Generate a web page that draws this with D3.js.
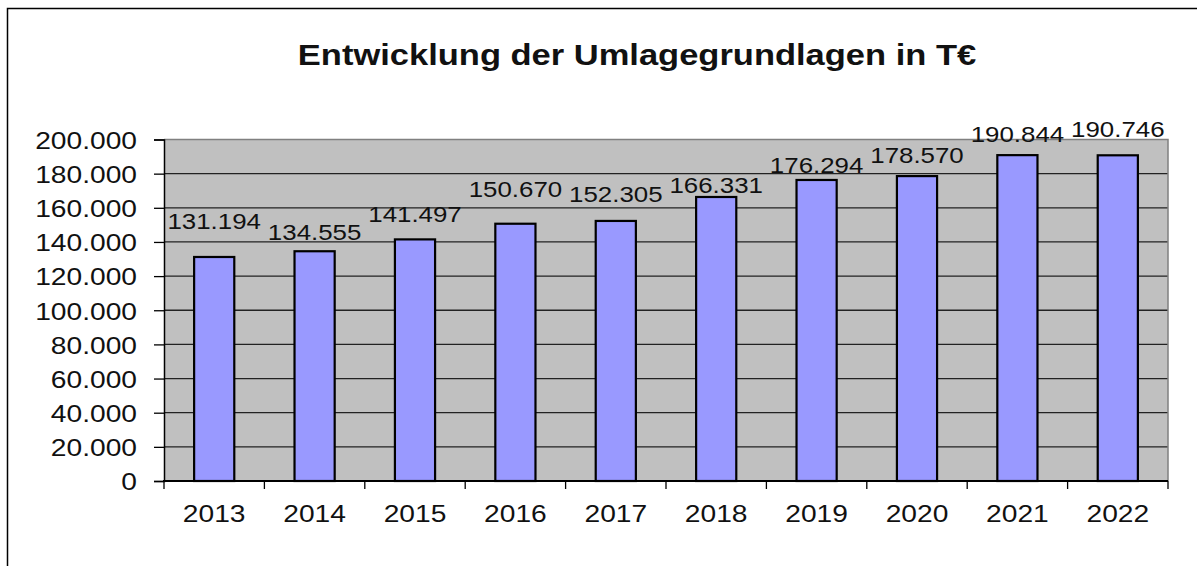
<!DOCTYPE html>
<html>
<head>
<meta charset="utf-8">
<script src="https://cdn.jsdelivr.net/npm/d3@7"></script>
<style>
  html, body { margin: 0; padding: 0; background: #fff; }
  svg { display: block; font-family: "Liberation Sans", Arial, sans-serif; }
</style>
</head>
<body>
<svg width="1197" height="566"></svg>
<script>
// data
const years = ["2013", "2014", "2015", "2016", "2017", "2018", "2019", "2020", "2021", "2022"];
const values = [131194, 134555, 141497, 150670, 152305, 166331, 176294, 178570, 190844, 190746];
const yTicks = [0, 20000, 40000, 60000, 80000, 100000, 120000, 140000, 160000, 180000, 200000];
// labels in the original were dragged by hand, so each sits a bit differently above its bar
const labelLift = [28, 11, 17, 27, 19, 4, 7, 13, 13, 18];

const title = "Entwicklung der Umlagegrundlagen in T€";

const de = d3.formatLocale({decimal: ",", thousands: ".", grouping: [3], currency: ["", " €"]});
const fmt = de.format(",d");

const svg = d3.select("svg");
const stretch = 1.15; // text in the source is a little wider than normal

const plotL = 164, plotR = 1168, plotT = 139.5, plotB = 481;

const y = d3.scaleLinear().domain([0, 200000]).range([plotB, plotT]);
const xCat = d3.scaleBand().domain(years).range([plotL, plotR]).padding(0);
const xBar = d3.scaleBand().domain(years).range([plotL, plotR]).paddingInner(0.6).paddingOuter(0.3);

// outer frame (only left and top show in the picture)
svg.append("rect")
    .attr("x", 7.5).attr("y", 8.5)
    .attr("width", 1300).attr("height", 700)
    .attr("fill", "none")
    .attr("stroke", "#000")
    .attr("stroke-width", 1.5);

// title
svg.append("text")
    .attr("transform", `translate(637,65) scale(${stretch},1)`)
    .attr("text-anchor", "middle")
    .attr("font-weight", "bold")
    .attr("font-size", 30)
    .attr("fill", "#111")
    .text(title);

// plot background
svg.append("rect")
    .attr("x", plotL).attr("y", plotT)
    .attr("width", plotR - plotL).attr("height", plotB - plotT)
    .attr("fill", "#c0c0c0");

// gridlines
svg.append("g")
    .selectAll("line")
    .data(yTicks.filter(d => d > 0 && d < 200000))
    .enter().append("line")
    .attr("x1", plotL).attr("x2", plotR)
    .attr("y1", d => y(d)).attr("y2", d => y(d))
    .attr("stroke", "#222")
    .attr("stroke-width", 1.3);

// top/right border of plot area
svg.append("path")
    .attr("d", `M${plotL},${plotT}H${plotR}V${plotB}`)
    .attr("fill", "none")
    .attr("stroke", "#808080")
    .attr("stroke-width", 1.5);

// bars
svg.append("g")
    .selectAll("rect")
    .data(values)
    .enter().append("rect")
    .attr("x", (d, i) => xBar(years[i]))
    .attr("y", d => y(d))
    .attr("width", xBar.bandwidth())
    .attr("height", d => plotB - y(d))
    .attr("fill", "#9999ff")
    .attr("stroke", "#000")
    .attr("stroke-width", 2.2);

// y axis
const yAxis = svg.append("g")
    .attr("transform", `translate(${plotL},0)`)
    .call(d3.axisLeft(y).tickValues(yTicks).tickFormat(fmt).tickSize(10).tickPadding(17));
yAxis.select(".domain").attr("stroke", "#000").attr("stroke-width", 1.5);
yAxis.selectAll(".tick line").attr("stroke", "#000").attr("stroke-width", 1.3);
yAxis.selectAll(".tick text")
    .attr("x", null).attr("dy", "0.36em")
    .attr("transform", `translate(-27,0) scale(${stretch},1)`)
    .attr("font-size", 24.5)
    .attr("fill", "#111");
yAxis.attr("font-family", null).attr("font-size", null);

// x axis: labels centred, ticks on category boundaries
const xAxis = svg.append("g")
    .attr("transform", `translate(0,${plotB})`)
    .call(d3.axisBottom(xCat).tickSize(0).tickPadding(0));
xAxis.select(".domain").remove();
xAxis.selectAll(".tick text")
    .attr("y", null).attr("dy", null)
    .attr("transform", `translate(0,41) scale(${stretch},1)`)
    .attr("font-size", 24.5)
    .attr("fill", "#111");
xAxis.attr("font-family", null).attr("font-size", null);

const bounds = years.map(d => xCat(d)).concat([plotR]);
svg.append("g")
    .selectAll("line")
    .data(bounds)
    .enter().append("line")
    .attr("x1", d => d).attr("x2", d => d)
    .attr("y1", plotB).attr("y2", plotB + 8)
    .attr("stroke", "#000")
    .attr("stroke-width", 1.3);

svg.append("line")
    .attr("x1", plotL - 1).attr("x2", plotR)
    .attr("y1", plotB).attr("y2", plotB)
    .attr("stroke", "#000")
    .attr("stroke-width", 1.8);

// data labels
svg.append("g")
    .selectAll("text")
    .data(values)
    .enter().append("text")
    .attr("transform", (d, i) =>
        `translate(${xCat(years[i]) + xCat.bandwidth() / 2},${y(d) - labelLift[i]}) scale(${stretch},1)`)
    .attr("text-anchor", "middle")
    .attr("font-size", 22.5)
    .attr("fill", "#111")
    .text(d => fmt(d));
</script>
</body>
</html>
